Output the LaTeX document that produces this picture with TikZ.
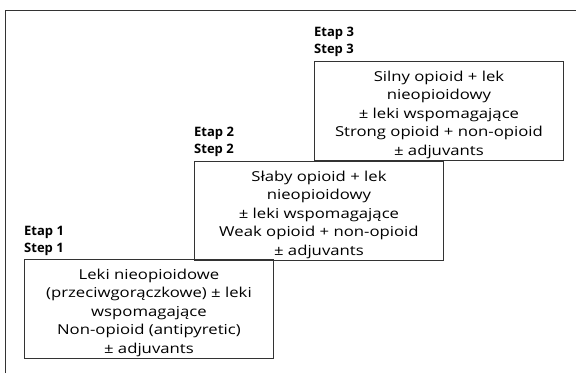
\documentclass[tikz,border=0pt]{standalone}
\usepackage{fontspec}
\setmainfont{Open Sans}
\newfontfamily\bodyfont[FakeStretch=1.22]{Open Sans}
\begin{document}
\begin{tikzpicture}[x=1pt,y=-1pt,
  stepbox/.style={draw=black!80,line width=0.9pt,minimum width=249pt,minimum height=99pt,inner sep=0pt,anchor=north west},
  steptext/.style={inner sep=0pt,align=center,font=\bodyfont\fontsize{13.7}{18.5}\selectfont},
  steplabel/.style={anchor=north west,inner sep=0pt,align=left,font=\fontsize{13}{17}\selectfont\bfseries}]
\useasboundingbox (0,0) rectangle (576,373);
\draw[black!80,line width=0.9pt] (5,373) -- (5,10) -- (576,10);
\node[stepbox] (s1) at (24,259) {};
\node[stepbox] (s2) at (194,161) {};
\node[stepbox] (s3) at (314,61) {};
\node[steptext] (t1) at ([yshift=-3.5pt]s1.center) {Leki nieopioidowe\\(przeciwgorączkowe) ± leki\\wspomagające\\Non-opioid (antipyretic)\\± adjuvants};
\node[steptext] (t2) at ([yshift=-3.5pt]s2.center) {Słaby opioid + lek\\nieopioidowy\\± leki wspomagające\\Weak opioid + non-opioid\\± adjuvants};
\node[steptext] (t3) at ([yshift=-3.5pt]s3.center) {Silny opioid + lek\\nieopioidowy\\± leki wspomagające\\Strong opioid + non-opioid\\± adjuvants};
\node[steplabel] (l1) at (24,226) {Etap 1\\Step 1};
\node[steplabel] (l2) at (194,127) {Etap 2\\Step 2};
\node[steplabel] (l3) at (314,27) {Etap 3\\Step 3};
\end{tikzpicture}
\end{document}
